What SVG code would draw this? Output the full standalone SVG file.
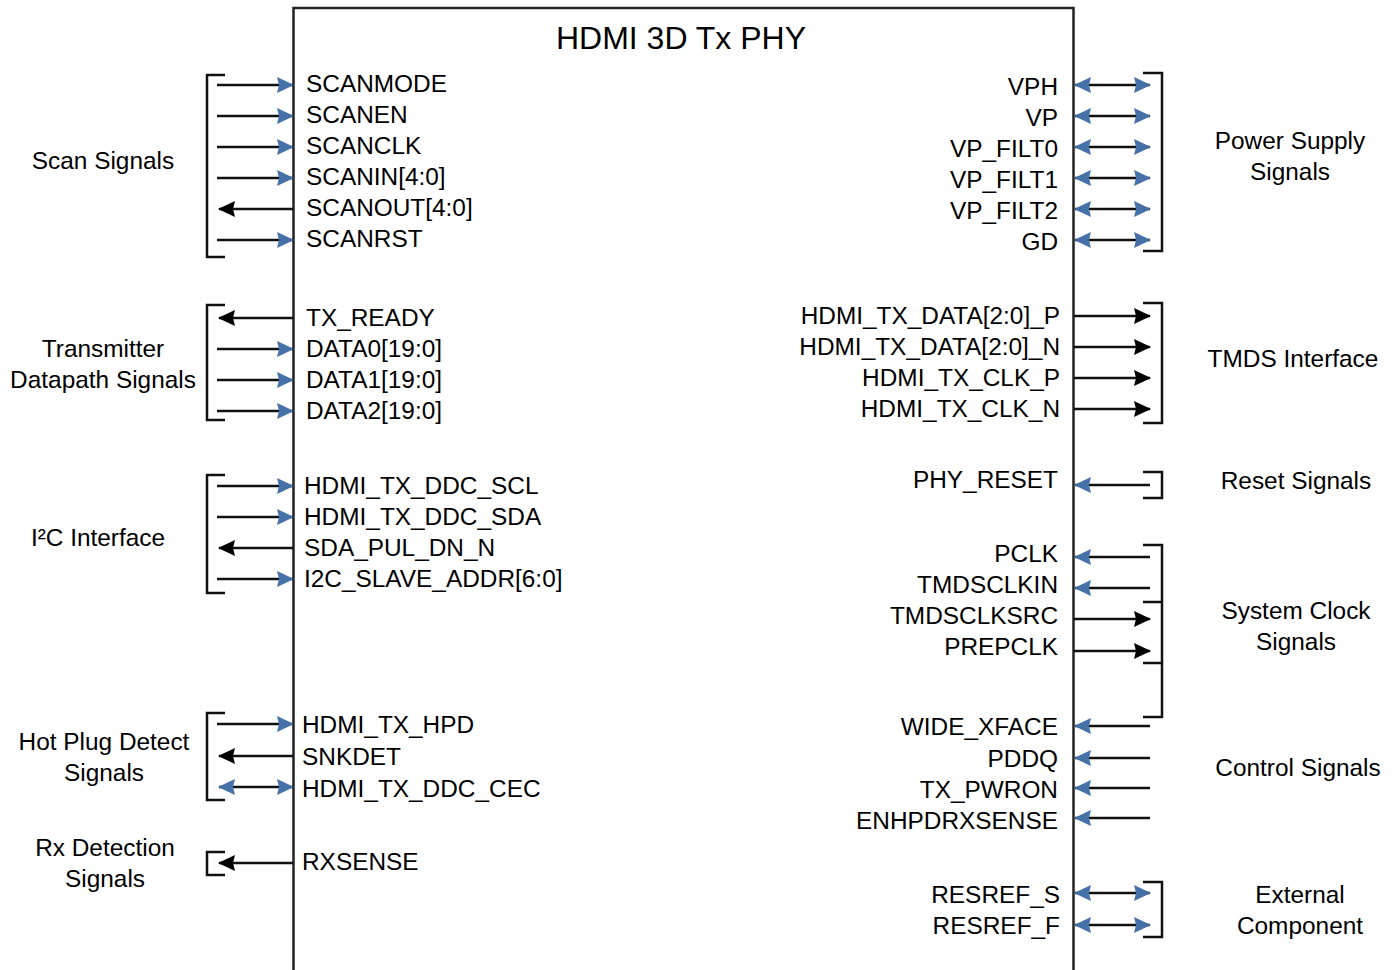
<svg xmlns="http://www.w3.org/2000/svg" width="1395" height="970" viewBox="0 0 1395 970">
<style>
text{font-family:"Liberation Sans",Arial,sans-serif;font-size:24.4px;fill:#000}
.r{text-anchor:end}
.c{text-anchor:middle}
.ln{stroke:#111;stroke-width:2.5;fill:none}
.br{stroke:#111;stroke-width:2.5;fill:none}
.bi{marker-end:url(#bh);}
.bo{marker-end:url(#kh);}
.bb{marker-start:url(#bh);marker-end:url(#bh);}
</style>
<defs>
<marker id="bh" viewBox="0 0 17 16" refX="16" refY="8" markerWidth="17" markerHeight="16" markerUnits="userSpaceOnUse" orient="auto-start-reverse"><path d="M0,0 L17,8 L0,16 L2,8 Z" fill="#4570a8"/></marker>
<marker id="kh" viewBox="0 0 17 16" refX="16" refY="8" markerWidth="17" markerHeight="16" markerUnits="userSpaceOnUse" orient="auto-start-reverse"><path d="M0,0 L17,8 L0,16 L2,8 Z" fill="#000"/></marker>
</defs>
<g id="phy">
<rect x="293.5" y="8" width="780" height="1000" fill="#fff" stroke="#222" stroke-width="2.5"/>
<text class="c" x="681" y="49" style="font-size:32px">HDMI 3D Tx PHY</text>
</g>
<g id="connectors">
<path class="ln bi" d="M217,85H293"/>
<path class="ln bi" d="M217,116H293"/>
<path class="ln bi" d="M217,147H293"/>
<path class="ln bi" d="M217,178H293"/>
<path class="ln bo" d="M293,209H219"/>
<path class="ln bi" d="M217,240H293"/>
<path class="ln bo" d="M293,318H219"/>
<path class="ln bi" d="M217,349H293"/>
<path class="ln bi" d="M217,380H293"/>
<path class="ln bi" d="M217,411H293"/>
<path class="ln bi" d="M217,486H293"/>
<path class="ln bi" d="M217,517H293"/>
<path class="ln bo" d="M293,548H219"/>
<path class="ln bi" d="M217,579H293"/>
<path class="ln bi" d="M217,724H293"/>
<path class="ln bo" d="M293,756H219"/>
<path class="ln bb" d="M219,787H293"/>
<path class="ln bo" d="M293,863H219"/>
<path class="ln bb" d="M1075,85H1150"/>
<path class="ln bb" d="M1075,116H1150"/>
<path class="ln bb" d="M1075,147H1150"/>
<path class="ln bb" d="M1075,178H1150"/>
<path class="ln bb" d="M1075,209H1150"/>
<path class="ln bb" d="M1075,240H1150"/>
<path class="ln bo" d="M1074,316H1150"/>
<path class="ln bo" d="M1074,347H1150"/>
<path class="ln bo" d="M1074,378H1150"/>
<path class="ln bo" d="M1074,409H1150"/>
<path class="ln bi" d="M1150,485H1075"/>
<path class="ln bi" d="M1150,557H1075"/>
<path class="ln bi" d="M1150,588H1075"/>
<path class="ln bo" d="M1074,619H1150"/>
<path class="ln bo" d="M1074,651H1150"/>
<path class="ln bi" d="M1150,726H1075"/>
<path class="ln bi" d="M1150,758H1075"/>
<path class="ln bi" d="M1150,788H1075"/>
<path class="ln bi" d="M1150,818H1075"/>
<path class="ln bb" d="M1075,893H1150"/>
<path class="ln bb" d="M1075,925H1150"/>
</g>
<g id="scan-signals">
<path class="br" d="M225,75H207V257H225"/>
<text class="c" x="103" y="169">Scan Signals</text>
<text x="306" y="92">SCANMODE</text>
<text x="306" y="123">SCANEN</text>
<text x="306" y="154">SCANCLK</text>
<text x="306" y="185">SCANIN[4:0]</text>
<text x="306" y="216">SCANOUT[4:0]</text>
<text x="306" y="247">SCANRST</text>
</g>
<g id="transmitter-datapath">
<path class="br" d="M225,305H207V420H225"/>
<text class="c" x="103" y="357">Transmitter</text>
<text class="c" x="103" y="388">Datapath Signals</text>
<text x="306" y="326">TX_READY</text>
<text x="306" y="357">DATA0[19:0]</text>
<text x="306" y="388">DATA1[19:0]</text>
<text x="306" y="419">DATA2[19:0]</text>
</g>
<g id="i2c-interface">
<path class="br" d="M225,475H207V593H225"/>
<text class="c" x="98" y="546">I²C Interface</text>
<text x="304" y="494">HDMI_TX_DDC_SCL</text>
<text x="304" y="525">HDMI_TX_DDC_SDA</text>
<text x="304" y="556">SDA_PUL_DN_N</text>
<text x="304" y="587">I2C_SLAVE_ADDR[6:0]</text>
</g>
<g id="hot-plug-detect">
<path class="br" d="M225,713H207V800H225"/>
<text class="c" x="104" y="750">Hot Plug Detect</text>
<text class="c" x="104" y="781">Signals</text>
<text x="302" y="733">HDMI_TX_HPD</text>
<text x="302" y="765">SNKDET</text>
<text x="302" y="797">HDMI_TX_DDC_CEC</text>
</g>
<g id="rx-detection">
<path class="br" d="M225,852H207V875H225"/>
<text class="c" x="105" y="856">Rx Detection</text>
<text class="c" x="105" y="887">Signals</text>
<text x="302" y="870">RXSENSE</text>
</g>
<g id="power-supply">
<path class="br" d="M1143,73H1162V251H1143"/>
<text class="c" x="1290" y="149">Power Supply</text>
<text class="c" x="1290" y="180">Signals</text>
<text class="r" x="1058" y="95">VPH</text>
<text class="r" x="1058" y="126">VP</text>
<text class="r" x="1058" y="157">VP_FILT0</text>
<text class="r" x="1058" y="188">VP_FILT1</text>
<text class="r" x="1058" y="219">VP_FILT2</text>
<text class="r" x="1058" y="250">GD</text>
</g>
<g id="tmds-interface">
<path class="br" d="M1143,303H1162V423H1143"/>
<text class="c" x="1293" y="367">TMDS Interface</text>
<text class="r" x="1060" y="324">HDMI_TX_DATA[2:0]_P</text>
<text class="r" x="1060" y="355">HDMI_TX_DATA[2:0]_N</text>
<text class="r" x="1060" y="386">HDMI_TX_CLK_P</text>
<text class="r" x="1060" y="417">HDMI_TX_CLK_N</text>
</g>
<g id="reset-signals">
<path class="br" d="M1143,472H1162V498H1143"/>
<text class="c" x="1296" y="489">Reset Signals</text>
<text class="r" x="1058" y="488">PHY_RESET</text>
</g>
<g id="system-clock">
<path class="br" d="M1143,545H1162V717H1143M1143,602H1162M1143,663H1162"/>
<text class="c" x="1296" y="619">System Clock</text>
<text class="c" x="1296" y="650">Signals</text>
<text class="r" x="1058" y="562">PCLK</text>
<text class="r" x="1058" y="593">TMDSCLKIN</text>
<text class="r" x="1058" y="624">TMDSCLKSRC</text>
<text class="r" x="1058" y="655">PREPCLK</text>
</g>
<g id="control-signals">
<text class="c" x="1298" y="776">Control Signals</text>
<text class="r" x="1058" y="735">WIDE_XFACE</text>
<text class="r" x="1058" y="767">PDDQ</text>
<text class="r" x="1058" y="798">TX_PWRON</text>
<text class="r" x="1058" y="829">ENHPDRXSENSE</text>
</g>
<g id="external-component">
<path class="br" d="M1143,882H1162V937H1143"/>
<text class="c" x="1300" y="903">External</text>
<text class="c" x="1300" y="934">Component</text>
<text class="r" x="1060" y="903">RESREF_S</text>
<text class="r" x="1060" y="934">RESREF_F</text>
</g>
</svg>
